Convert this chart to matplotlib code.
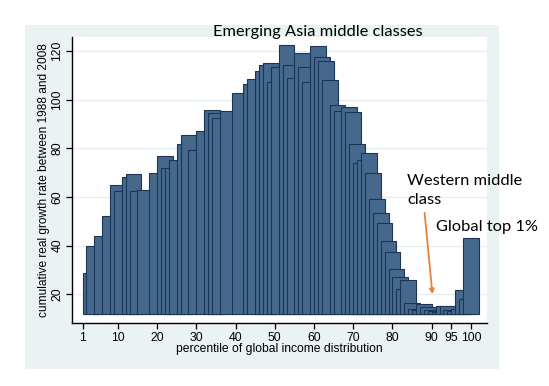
import matplotlib
matplotlib.use("Agg")
import matplotlib.pyplot as plt
from matplotlib.patches import Rectangle, FancyArrowPatch
import numpy as np

# percentile where each bar starts, and cumulative growth 1988-2008 (%)
pct = [1, 2, 4, 6, 8, 9, 11, 12, 13, 15, 18, 20, 21, 22, 23, 25, 26, 28, 30,
       32, 33, 34, 36, 39, 42, 43, 45, 46, 47, 48, 49, 51, 52, 53, 55, 56, 57,
       59, 60, 61, 62, 64, 65, 67, 68, 69, 70, 71, 72, 73, 74, 75, 76, 77, 78,
       79, 80, 81, 82, 83, 84, 85, 86, 87, 88, 89, 90, 91, 92, 93, 94, 95, 96,
       97, 98]
growth = [28.9, 39.9, 43.9, 52.1, 65.0, 62.4, 68.4, 69.4, 62.4, 62.8, 69.8,
          76.8, 72.0, 72.0, 75.1, 81.7, 85.7, 79.4, 87.1, 95.7, 94.5, 92.4,
          95.3, 102.7, 106.4, 108.5, 111.8, 114.1, 115.0, 107.5, 113.3, 122.6,
          114.2, 109.0, 119.4, 113.6, 107.3, 122.2, 117.5, 115.9, 108.1, 97.8,
          95.5, 97.2, 95.1, 81.7, 74.0, 75.3, 78.3, 69.8, 59.1, 53.3, 49.5,
          41.9, 37.3, 30.4, 27.0, 22.0, 25.9, 16.5, 14.0, 13.5, 16.0, 14.7,
          13.5, 13.0, 12.8, 15.3, 15.3, 13.5, 13.0, 14.0, 21.8, 18.0, 43.0]
xticks = [1, 10, 20, 30, 40, 50, 60, 70, 80, 90, 95, 100]
yticks = [20, 40, 60, 80, 100, 120]
base = 11.8

W, H = 549, 386
fig = plt.figure(figsize=(W / 100, H / 100), dpi=100)
fig.patch.set_facecolor("white")

def fx(x):
    return x / W

def fy(y):
    return 1 - y / H

# light graph region behind the plot
fig.patches.append(Rectangle((fx(25), fy(369)), fx(499) - fx(25), fy(25) - fy(369),
                             transform=fig.transFigure, facecolor="#eaf2f3",
                             edgecolor="none", zorder=0))

ax = fig.add_axes([fx(72.3), fy(323), fx(487) - fx(72.3), fy(37) - fy(323)])
ax.set_facecolor("white")
ax.set_zorder(1)

ax.bar(pct, np.array(growth) - base, width=4, bottom=base, align="edge",
       color="#46688c", edgecolor="#1b3654", linewidth=0.8, zorder=2)

ax.set_xlim(-1.6, 104.1)
ax.set_ylim(8.2, 125.8)
for s in ["top", "right"]:
    ax.spines[s].set_visible(False)
for s in ["left", "bottom"]:
    ax.spines[s].set_linewidth(1.0)
ax.set_xticks(xticks)
ax.set_yticks(yticks)
ax.tick_params(length=4.5, width=0.9, labelsize=8.8, pad=2)
for lab in ax.get_xticklabels() + ax.get_yticklabels():
    lab.set_family("Liberation Sans")
plt.setp(ax.get_yticklabels(), rotation=90, va="center")
ax.yaxis.grid(True, color="#e4ecee", linewidth=0.9, zorder=0)
ax.set_axisbelow(True)

ax.set_xlabel("percentile of global income distribution", family="Liberation Sans",
              fontsize=8.7, labelpad=-1)
ax.set_ylabel("cumulative real growth rate between 1988 and 2008",
              family="Liberation Sans", fontsize=8.6, labelpad=1)

tf = dict(family="Lato", fontsize=11.8, va="baseline", ha="left", zorder=5)
fig.text(fx(213), fy(36), "Emerging Asia middle classes", **tf)
fig.text(fx(407), fy(185), "Western middle", **tf)
fig.text(fx(407), fy(204), "class", **tf)
fig.text(fx(436), fy(231), "Global top 1%", **tf)

arrow = FancyArrowPatch((fx(424.3), fy(210)), (fx(432.7), fy(297)),
                        transform=fig.transFigure, arrowstyle="-|>",
                        mutation_scale=7, color="#e8823d", linewidth=1.3, zorder=6)
fig.patches.append(arrow)

fig.savefig("out.png", dpi=100)
